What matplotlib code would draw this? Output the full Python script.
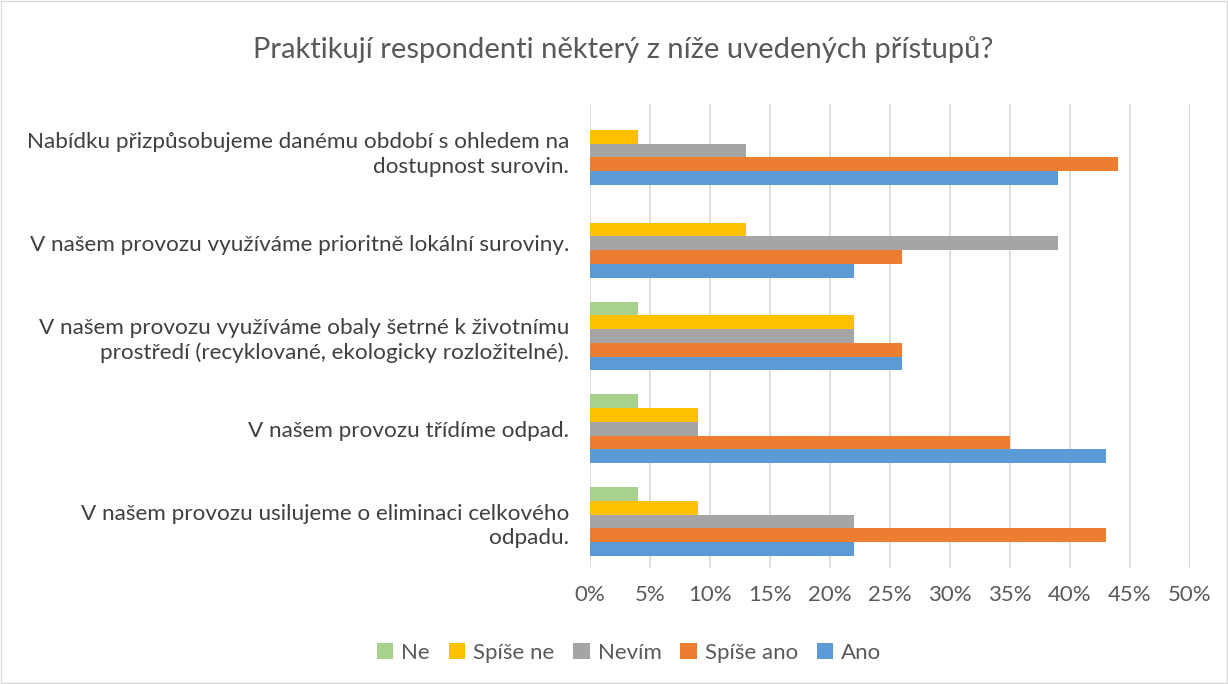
import matplotlib
matplotlib.use("Agg")
import matplotlib.pyplot as plt
from matplotlib.ticker import FuncFormatter
from matplotlib.patches import Rectangle
import numpy as np

plt.rcParams['font.family'] = ['Lato', 'DejaVu Sans']

categories = [
    "Nabídku přizpůsobujeme danému období s ohledem na\ndostupnost surovin.",
    "V našem provozu využíváme prioritně lokální suroviny.",
    "V našem provozu využíváme obaly šetrné k životnímu\nprostředí (recyklované, ekologicky rozložitelné).",
    "V našem provozu třídíme odpad.",
    "V našem provozu usilujeme o eliminaci celkového\nodpadu.",
]
series_names = ["Ne", "Spíše ne", "Nevím", "Spíše ano", "Ano"]
ne = [0, 0, 4, 4, 4]
spise_ne = [4, 13, 22, 9, 9]
nevim = [13, 39, 22, 9, 22]
spise_ano = [44, 26, 26, 35, 43]
ano = [39, 22, 26, 43, 22]
colors = ["#A9D18E", "#FFC000", "#A5A5A5", "#ED7D31", "#5B9BD5"]
xticks = [0, 5, 10, 15, 20, 25, 30, 35, 40, 45, 50]

values = [ne, spise_ne, nevim, spise_ano, ano]

fig = plt.figure(figsize=(12.28, 6.84), dpi=100)
ax = fig.add_axes([590/1228, 1 - 568/684, 600/1228, (568-104)/684])

n_cat = len(categories)
n_ser = len(series_names)
bar_h = 0.148
y_centers = np.arange(n_cat)
for s in range(n_ser):
    offs = (s - (n_ser - 1) / 2) * bar_h
    ax.barh(y_centers + offs, values[s], height=bar_h, color=colors[s],
            label=series_names[s], zorder=3)

ax.set_ylim(n_cat - 0.5, -0.5)
ax.set_xlim(0, 50)
ax.set_xticks(xticks)
ax.xaxis.set_major_formatter(FuncFormatter(lambda v, p: f"{int(v)}%"))
ax.set_yticks(y_centers)
ax.set_yticklabels(categories, fontsize=16.2, color="#404040", linespacing=1.3)
ax.tick_params(axis='y', length=0, pad=15)
ax.tick_params(axis='x', length=0, labelsize=16, labelcolor="#595959", pad=12)
ax.grid(axis='x', color="#D9D9D9", linewidth=1.2, zorder=0)
for sp in ax.spines.values():
    sp.set_visible(False)

fig.text(623/1228, 1 - 50/684, "Praktikují respondenti některý z níže uvedených přístupů?",
         ha='center', va='center', fontsize=21, color="#595959")

leg = fig.legend(loc='center', bbox_to_anchor=(629/1228, 1 - 653/684), ncol=5,
                 frameon=False, fontsize=16, handlelength=0.75, handleheight=0.75,
                 handletextpad=0.35, columnspacing=0.85)
for t in leg.get_texts():
    t.set_color("#595959")

fig.patches.append(Rectangle((1/1228, 1/684), 1 - 2/1228, 1 - 2/684, transform=fig.transFigure,
                             fill=False, edgecolor="#D9D9D9", linewidth=1))

fig.savefig("out.png", dpi=100, facecolor="white")
